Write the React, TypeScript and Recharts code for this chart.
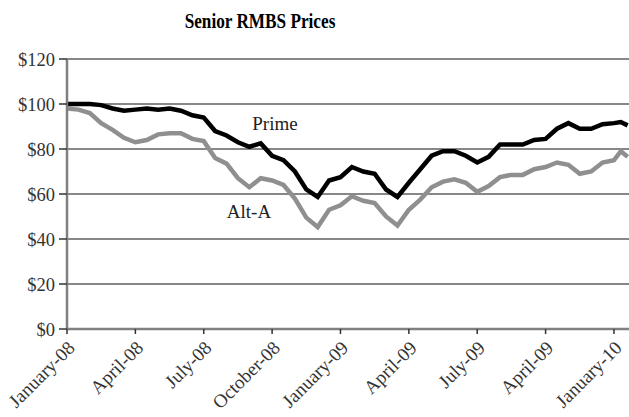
import React from 'react';
import { LineChart, Line, XAxis, YAxis, CartesianGrid } from 'recharts';

// months since January 2008, sampled roughly every half month
const months = [
  0, 0.5, 1, 1.5, 2, 2.5, 3, 3.5, 4, 4.5, 5, 5.5, 6, 6.5, 7, 7.5, 8, 8.5, 9, 9.5,
  10, 10.5, 11, 11.5, 12, 12.5, 13, 13.5, 14, 14.5, 15, 15.5, 16, 16.5, 17, 17.5,
  18, 18.5, 19, 19.5, 20, 20.5, 21, 21.5, 22, 22.5, 23, 23.5, 24, 24.3, 24.6
];

const prime = [
  100, 100, 100, 99.5, 98, 97, 97.5, 98, 97.5, 98, 97, 95, 94, 88, 86, 83, 81, 82.5, 77, 75,
  70, 62, 58.7, 66, 67.5, 72, 70, 69, 62, 58.7, 65, 71, 77, 79, 79, 77,
  74, 76.5, 82, 82, 82, 84, 84.5, 89, 91.5, 89, 89, 91, 91.5, 92, 90.5
];

const altA = [
  98, 97.5, 96, 91.5, 88.5, 85, 83, 84, 86.5, 87, 87, 84.5, 83.5, 76, 73.5, 67, 63, 67, 66, 64,
  58, 49.5, 45.3, 53, 55, 59, 57, 56, 50, 46, 53, 57.5, 63, 65.5, 66.5, 65,
  61, 63.5, 67.5, 68.5, 68.5, 71, 72, 74, 73, 69, 70, 74, 75, 79, 76.5
];

const tickMonths = [0, 3, 6, 9, 12, 15, 18, 21, 24];
const tickLabels = [
  'January-08', 'April-08', 'July-08', 'October-08', 'January-09',
  'April-09', 'July-09', 'April-09', 'January-10'
];
const yTicks = [0, 20, 40, 60, 80, 100, 120];

const data = months.map((m, i) => ({ m, prime: prime[i], altA: altA[i] }));

const font = '"Liberation Serif", "Times New Roman", serif';

const XTick = (props: any) => {
  const { x, y, payload } = props;
  const idx = tickMonths.indexOf(payload.value);
  return (
    <text
      transform={`translate(${x + 9},${y + 13}) rotate(-45)`}
      textAnchor="end"
      fontFamily={font}
      fontSize={19}
      fill="#333"
    >
      {tickLabels[idx]}
    </text>
  );
};

export default function App() {
  return (
    <div style={{ position: 'absolute', left: 0, top: 0, width: 629, height: 417, background: '#fff' }}>
      <LineChart
        width={629}
        height={417}
        data={data}
        margin={{ top: 59, right: 0, left: 0, bottom: 8 }}
      >
        <text
          transform="translate(260,28) scale(0.82,1)"
          textAnchor="middle"
          fontFamily={font}
          fontWeight="bold"
          fontSize={21}
          fill="#000"
        >
          Senior RMBS Prices
        </text>
        <CartesianGrid vertical={false} stroke="#111" strokeWidth={1} />
        <XAxis
          dataKey="m"
          type="number"
          domain={[0, 24.66]}
          ticks={tickMonths}
          interval={0}
          height={80}
          stroke="#808080"
          strokeWidth={2.5}
          tickSize={5}
          tickLine={{ stroke: '#333', strokeWidth: 1.5 }}
          tick={<XTick />}
        />
        <YAxis
          domain={[0, 120]}
          ticks={yTicks}
          width={67}
          stroke="#808080"
          strokeWidth={2.5}
          tickSize={8}
          tickMargin={4}
          tickLine={{ stroke: '#333', strokeWidth: 1.5 }}
          tickFormatter={(v: number) => `$${v}`}
          tick={{ fontFamily: font, fontSize: 18.5, fill: '#333' }}
        />
        <Line dataKey="altA" stroke="#8f8f8f" strokeWidth={4.5} dot={false} isAnimationActive={false} />
        <Line dataKey="prime" stroke="#000" strokeWidth={4.5} dot={false} isAnimationActive={false} />
        <text x={275} y={130} textAnchor="middle" fontFamily={font} fontSize={19} fill="#222">Prime</text>
        <text x={249} y={218} textAnchor="middle" fontFamily={font} fontSize={19} fill="#222">Alt-A</text>
      </LineChart>
    </div>
  );
}
